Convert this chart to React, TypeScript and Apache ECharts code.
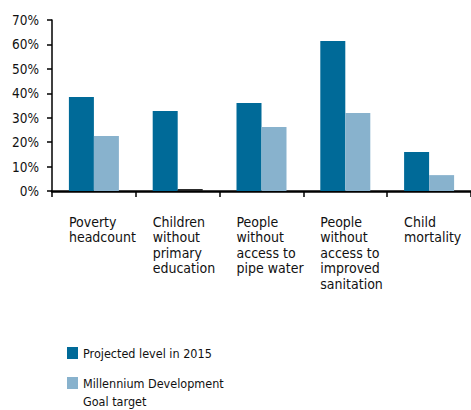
import React, { useEffect, useRef } from "react";
import * as echarts from "echarts";

const categories = [
  "Poverty\nheadcount",
  "Children\nwithout\nprimary\neducation",
  "People\nwithout\naccess to\npipe water",
  "People\nwithout\naccess to\nimproved\nsanitation",
  "Child\nmortality",
];
const seriesNames = ["Projected level in 2015", "Millennium Development Goal target"];
const projected = [38.5, 32.7, 36, 61.4, 16];
const mdgTarget = [22.5, 0.8, 26.2, 31.9, 6.5];
const yTicks = { min: 0, max: 70, interval: 10 };

const DARK = "#006A98";
const LIGHT = "#88B2CD";
const TEXT = "#111";
const FONT = "'Liberation Sans Narrow', 'DejaVu Sans Condensed', 'Liberation Sans', sans-serif";

export default function App() {
  const ref = useRef<HTMLDivElement>(null);
  useEffect(() => {
    if (!ref.current) return;
    const chart = echarts.init(ref.current, null, { renderer: "svg" });
    const legendText = {
      fontFamily: FONT,
      fontSize: 12.5,
      lineHeight: 18,
      color: TEXT,
    };
    chart.setOption({
      animation: false,
      textStyle: { fontFamily: FONT },
      grid: { left: 52, top: 20, right: -7, bottom: 219, containLabel: false },
      legend: [
        {
          data: [seriesNames[0]],
          orient: "vertical",
          left: 67,
          top: 344,
          padding: 0,
          itemWidth: 11,
          itemHeight: 12,
          icon: "rect",
          selectedMode: false,
          textStyle: legendText,
        },
        {
          data: [seriesNames[1]],
          orient: "vertical",
          left: 67,
          top: 356,
          padding: 0,
          itemWidth: 11,
          itemHeight: 12,
          icon: "rect",
          selectedMode: false,
          formatter: () => "\u00a0\nMillennium Development\nGoal target",
          textStyle: legendText,
        },
      ],
      xAxis: {
        type: "category",
        data: categories,
        axisLine: { show: true, lineStyle: { color: "#000", width: 2.5 } },
        axisTick: { show: true, length: 6, interval: 0, lineStyle: { color: "#000", width: 1.5 } },
        axisLabel: {
          interval: 0,
          align: "left",
          verticalAlign: "top",
          margin: 23,
          padding: [0, 0, 0, -25],
          fontFamily: FONT,
          fontSize: 14,
          lineHeight: 15.5,
          color: TEXT,
        },
        splitLine: { show: false },
      },
      yAxis: {
        type: "value",
        min: yTicks.min,
        max: yTicks.max,
        interval: yTicks.interval,
        axisLine: { show: true, lineStyle: { color: "#000", width: 1.5 } },
        axisTick: { show: true, length: 5, lineStyle: { color: "#000", width: 1.5 } },
        axisLabel: {
          formatter: "{value}%",
          margin: 13,
          fontFamily: FONT,
          fontSize: 13.5,
          color: TEXT,
        },
        splitLine: { show: false },
      },
      series: [
        {
          name: seriesNames[0],
          type: "bar",
          data: projected,
          barWidth: 25,
          barGap: "0%",
          itemStyle: { color: DARK },
        },
        {
          name: seriesNames[1],
          type: "bar",
          data: mdgTarget.map((v, i) =>
            i === 1 ? { value: v, itemStyle: { color: "#222" } } : v
          ),
          barWidth: 25,
          barGap: "0%",
          itemStyle: { color: LIGHT },
        },
      ],
    });
    return () => chart.dispose();
  }, []);
  return (
    <div
      ref={ref}
      style={{ position: "fixed", left: 0, top: 0, width: 471, height: 410, background: "#fff" }}
    />
  );
}
